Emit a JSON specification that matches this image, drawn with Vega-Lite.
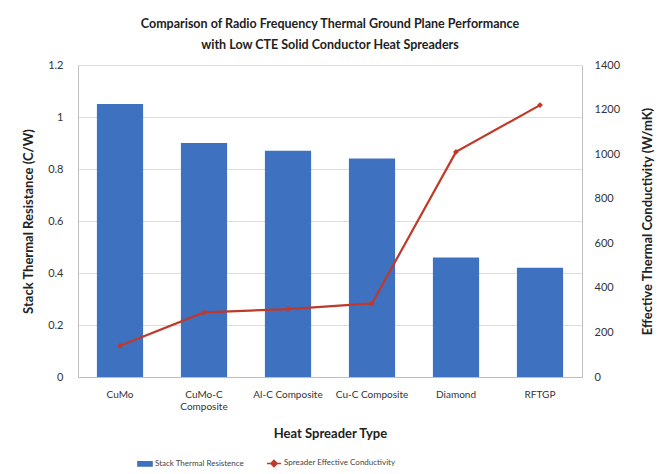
{
  "$schema": "https://vega.github.io/schema/vega-lite/v6.json",
  "width": 504,
  "height": 312,
  "autosize": {"type": "none"},
  "padding": {"left": 78, "top": 65, "right": 82, "bottom": 97},
  "background": "white",
  "config": {
    "font": "Lato",
    "view": {"stroke": null},
    "axis": {"labelColor": "#333", "titleColor": "#222", "domainColor": "#bfbfbf", "gridColor": "#dedede"}
  },
  "title": {
    "text": ["Comparison of Radio Frequency Thermal Ground Plane Performance", "with  Low CTE Solid Conductor Heat Spreaders"],
    "fontSize": 12.5,
    "fontWeight": "bold",
    "lineHeight": 21,
    "offset": 8,
    "color": "#222",
    "anchor": "middle"
  },
  "data": {
    "values": [
      {"type": "CuMo", "resistance": 1.05, "conductivity": 140},
      {"type": "CuMo-C Composite", "resistance": 0.9, "conductivity": 290},
      {"type": "Al-C Composite", "resistance": 0.87, "conductivity": 305},
      {"type": "Cu-C Composite", "resistance": 0.84, "conductivity": 330},
      {"type": "Diamond", "resistance": 0.46, "conductivity": 1010},
      {"type": "RFTGP", "resistance": 0.42, "conductivity": 1220}
    ]
  },
  "encoding": {
    "x": {
      "field": "type",
      "type": "nominal",
      "sort": null,
      "scale": {"paddingInner": 0.45, "paddingOuter": 0.225},
      "axis": {
        "title": "Heat Spreader Type",
        "titleFontSize": 13,
        "titleFontWeight": "bold",
        "titlePadding": 16,
        "labelAngle": 0,
        "labelFontSize": 10,
        "labelPadding": 12,
        "ticks": false,
        "labelExpr": "datum.value == 'CuMo-C Composite' ? ['CuMo-C', 'Composite'] : datum.value"
      }
    }
  },
  "layer": [
    {
      "mark": {"type": "bar", "color": "#3e72c0"},
      "encoding": {
        "y": {
          "field": "resistance",
          "type": "quantitative",
          "scale": {"domain": [0, 1.2]},
          "axis": {
            "title": "Stack Thermal Resistance (C/W)",
            "titleFontSize": 13,
            "titleFontWeight": "bold",
            "titlePadding": 12,
            "values": [0, 0.2, 0.4, 0.6, 0.8, 1, 1.2],
            "format": ".1~f",
            "labelFontSize": 11,
            "labelPadding": 15,
            "ticks": false,
            "grid": true
          }
        },
        "color": {
          "datum": "Stack Thermal Resistence",
          "scale": {"domain": ["Stack Thermal Resistence", "Spreader Effective Conductivity"], "range": ["#3e72c0", "#c0392b"]},
          "legend": {
            "orient": "none",
            "legendX": 59,
            "legendY": 390,
            "direction": "horizontal",
            "title": null,
            "labelFontSize": 8,
            "labelColor": "#444",
            "labelOffset": 2,
            "columnPadding": 18,
            "encode": {
              "symbols": {
                "update": {
                  "shape": {"signal": "datum.value == 'Stack Thermal Resistence' ? 'M-1,-0.3H1V0.3H-1Z' : 'M-1,0H1M0,-0.45L0.45,0L0,0.45L-0.45,0Z'"},
                  "fill": {"signal": "datum.value == 'Stack Thermal Resistence' ? '#3e72c0' : '#c0392b'"},
                  "stroke": {"signal": "datum.value == 'Stack Thermal Resistence' ? '#3e72c0' : '#c0392b'"},
                  "strokeWidth": {"value": 1.5},
                  "size": {"value": 200}
                }
              }
            }
          }
        }
      }
    },
    {
      "mark": {"type": "line", "color": "#c0392b", "strokeWidth": 2.2, "point": {"shape": "diamond", "size": 35, "color": "#c0392b", "filled": true}},
      "encoding": {
        "y": {
          "field": "conductivity",
          "type": "quantitative",
          "scale": {"domain": [0, 1400]},
          "axis": {
            "orient": "right",
            "title": "Effective Thermal Conductivity (W/mK)",
            "titleFontSize": 13,
            "titleFontWeight": "bold",
            "titleAngle": 270,
            "titlePadding": 35,
            "values": [0, 200, 400, 600, 800, 1000, 1200, 1400],
            "format": "d",
            "labelFontSize": 11,
            "labelPadding": 12,
            "ticks": false,
            "grid": false
          }
        },
        "color": {"datum": "Spreader Effective Conductivity"}
      }
    }
  ],
  "resolve": {"scale": {"y": "independent"}}
}
